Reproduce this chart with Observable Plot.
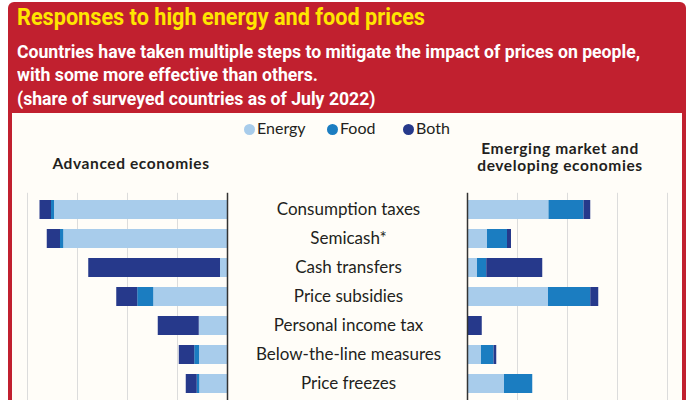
<!DOCTYPE html>
<html>
<head>
<meta charset="utf-8">
<script src="https://cdn.jsdelivr.net/npm/d3@7"></script>
<script src="https://cdn.jsdelivr.net/npm/@observablehq/plot@0.6"></script>
<style>
  html, body { margin: 0; padding: 0; background: #ffffff; }
  #page { position: relative; width: 700px; height: 400px; overflow: hidden; background: #fff; }
  #frame { position: absolute; left: 8px; top: 2px; width: 678px; height: 440px; background: #c1202f; border-radius: 6px 6px 0 0; }
  #panel { position: absolute; left: 12px; top: 113px; width: 670px; height: 300px; background: #fffdf8; }
  .hd { position: absolute; left: 17px; white-space: nowrap; font-family: Roboto, "Liberation Sans", sans-serif; font-weight: bold; transform-origin: 0 0; }
  #title { top: 3px; color: #ffe500; font-size: 24px; }
  .sub { color: #ffffff; font-size: 19px; }
  .lbl { position: absolute; font-family: Lato, "Open Sans", sans-serif; color: #231f20; }
  .sec { font-weight: bold; font-size: 15.5px; line-height: 17px; height: 17px; text-align: center; letter-spacing: 0.6px; white-space: nowrap; }
  .leg { position: absolute; top: 119px; font-family: Lato, sans-serif; font-size: 16px; color: #231f20; line-height: 18px; white-space: nowrap; }
  .dot { display: inline-block; width: 11px; height: 11px; border-radius: 50%; vertical-align: -1px; margin-right: 2px; }
  .plotbox { position: absolute; top: 140px; }
  .plotbox svg { background: transparent; overflow: visible; }
</style>
</head>
<body>
<div id="page">
  <div id="frame"></div>
  <div id="panel"></div>
  <div id="title" class="hd">Responses to high energy and food prices</div>
  <div id="sub1" class="hd sub" style="top:40px">Countries have taken multiple steps to mitigate the impact of prices on people,</div>
  <div class="hd sub" style="top:63px">with some more effective than others.</div>
  <div class="hd sub" style="top:87px">(share of surveyed countries as of July 2022)</div>
  <div id="legend"></div>
  <div class="lbl sec" style="left:30px; top:155px; width:202px;">Advanced economies</div>
  <div class="lbl sec" style="left:450px; top:140px; width:220px;">Emerging market and</div>
  <div class="lbl sec" style="left:450px; top:157px; width:220px;">developing economies</div>
  <div id="left" class="plotbox" style="left:0px"></div>
  <div id="right" class="plotbox" style="left:440px"></div>
</div>
<script>
const categories = ["Consumption taxes", "Semicash*", "Cash transfers", "Price subsidies", "Personal income tax", "Below-the-line measures", "Price freezes"];
const measureTypes = ["Energy", "Food", "Both"];
const typeColors = ["#a8cceb", "#1b7dc1", "#26398b"];

// Advanced economies (share of surveyed countries, %)
const advEnergy = [69.2, 65.5, 2.8, 29.5, 11.3, 11.2, 11.1];
const advFood   = [1.2, 1.3, 0, 6.4, 0, 1.9, 1.0];
const advBoth   = [4.6, 5.3, 52.7, 8.4, 16.4, 6.2, 4.4];

// Emerging market and developing economies (%)
const emdeEnergy = [32.6, 8.0, 4.0, 32.4, 0, 5.6, 14.8];
const emdeFood   = [14.0, 8.0, 3.7, 16.9, 0, 5.0, 11.3];
const emdeBoth   = [2.7, 1.6, 22.4, 3.2, 5.9, 1.1, 0];

const gridTicks = [0, 20, 40, 60, 80];

// condense header text horizontally to the reference widths
function condense(el, targetWidth) {
  const w = el.getBoundingClientRect().width;
  const k = targetWidth / w;
  el.style.transform = `scaleX(${k})`;
  return k;
}
const kTitle = condense(document.getElementById("title"), 408);
const kSub = condense(document.getElementById("sub1"), 623);
document.querySelectorAll(".sub").forEach(el => { el.style.transform = `scaleX(${kSub})`; });

function toLong(e, f, b) {
  const out = [];
  categories.forEach((c, i) => {
    out.push({cat: c, type: "Energy", value: e[i]});
    out.push({cat: c, type: "Food", value: f[i]});
    out.push({cat: c, type: "Both", value: b[i]});
  });
  return out;
}
const advData = toLong(advEnergy, advFood, advBoth);
const emdeData = toLong(emdeEnergy, emdeFood, emdeBoth);

// legend
const legend = document.getElementById("legend");
const legPos = [244, 327, 403];
measureTypes.forEach((t, i) => {
  const d = document.createElement("div");
  d.className = "leg";
  d.style.left = legPos[i] + "px";
  d.innerHTML = `<span class="dot" style="background:${typeColors[i]}"></span>${t}`;
  legend.appendChild(d);
});

const yScale = {domain: categories, paddingInner: 0.34, paddingOuter: 0.17, axis: null};
const colorScale = {domain: measureTypes, range: typeColors};

const leftW = 470;
const left = Plot.plot({
  width: leftW, height: 260,
  marginTop: 52.8, marginBottom: 0, marginLeft: 27, marginRight: leftW - 227,
  style: {background: "transparent", fontFamily: "Lato, sans-serif", fontSize: "17px", color: "#231f20"},
  x: {domain: [0, 80], reverse: true, axis: null},
  y: yScale,
  color: colorScale,
  marks: [
    Plot.ruleX(gridTicks, {stroke: "#dcdcdc", strokeWidth: 1}),
    Plot.barX(advData, Plot.stackX({x: "value", y: "cat", fill: "type", order: measureTypes})),
    Plot.ruleX([0], {stroke: "#333333", strokeWidth: 1.5}),
    Plot.axisY({anchor: "right", tickSize: 0, tickPadding: 0, textAnchor: "middle", dx: 121, fill: "#231f20", fontSize: 17, label: null})
  ]
});
document.getElementById("left").appendChild(left);

const rightW = 260;
const right = Plot.plot({
  width: rightW, height: 260,
  marginTop: 52.8, marginBottom: 0, marginLeft: 27, marginRight: rightW - 227,
  style: {background: "transparent"},
  x: {domain: [0, 80], axis: null},
  y: yScale,
  color: colorScale,
  marks: [
    Plot.ruleX(gridTicks, {stroke: "#dcdcdc", strokeWidth: 1}),
    Plot.barX(emdeData, Plot.stackX({x: "value", y: "cat", fill: "type", order: measureTypes})),
    Plot.ruleX([0], {stroke: "#333333", strokeWidth: 1.5})
  ]
});
document.getElementById("right").appendChild(right);
</script>
</body>
</html>
